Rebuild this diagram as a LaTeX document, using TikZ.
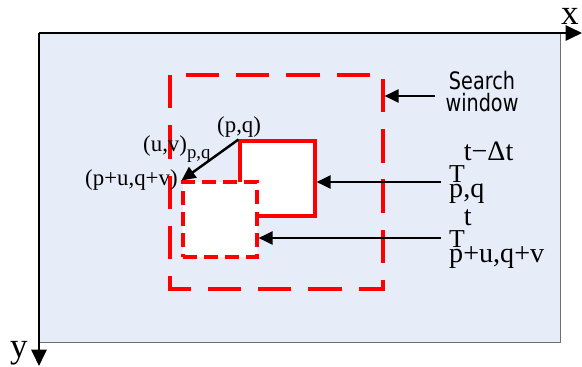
\documentclass[tikz,border=0pt]{standalone}
\usepackage{fontspec}
\setmainfont{Liberation Serif}
\newfontfamily\windowfont[FakeStretch=0.8]{DejaVu Sans}
\usetikzlibrary{arrows.meta, positioning}
\definecolor{frameFill}{RGB}{231,237,248}
\definecolor{frameLine}{RGB}{110,110,110}
\definecolor{blockRed}{RGB}{255,0,0}
\newcommand{\motionlbl}[2]{\rlap{T\hspace{-1pt}\raisebox{18pt}{\fontsize{24}{24}\selectfont #1}}\raisebox{-13.6pt}{\fontsize{24}{24}\selectfont #2}}

\begin{document}
\begin{tikzpicture}[
    x=0.03cm, y=-0.03cm,
    axis/.style={line width=2pt, -{Triangle[length=14pt, width=13pt]}},
    pointer/.style={line width=2.1pt, -{Triangle[length=12pt, width=11pt]}},
    window/.style={draw=blockRed, line width=2.6pt, dash pattern=on 28.45pt off 14.5pt},
    block/.style={draw=blockRed, line width=2.6pt, fill=white, minimum width=2.22cm, minimum height=2.25cm, inner sep=0pt},
    moved/.style={block, dash pattern=on 12pt off 6pt},
    lbl/.style={font=\fontsize{19.5}{21}\selectfont, inner sep=0pt},
    tlbl/.style={font=\fontsize{22}{24}\selectfont, inner sep=0pt, anchor=base west},
    axislbl/.style={font=\fontsize{30}{32}\selectfont, inner sep=0pt},
    searchlbl/.style={font=\windowfont\fontsize{20.5}{19}\selectfont, align=center, inner sep=0pt}
]
    \useasboundingbox (0,0) rectangle (582,367);

    % image plane and axes
    \coordinate (origin) at (39,33);
    \coordinate (xend) at (582,33);
    \coordinate (yend) at (39,366);
    \draw[draw=frameLine, line width=0.8pt, fill=frameFill] (origin) rectangle (560,342);
    \draw[axis] (origin) -- (xend);
    \draw[axis] (origin) -- (yend);
    \node[axislbl] (xlbl) at (570,16) {x};
    \node[axislbl, anchor=base] (ylbl) at (19,357) {y};

    % search window and blocks
    \node[minimum width=6.39cm, minimum height=6.42cm, inner sep=0pt, outer sep=0pt] (search) at (276.5,182) {};
    \draw[window] (search.north west) -- (search.south west) -- (search.south east) -- (search.north east) -- cycle;
    \node[block, minimum width=2.25cm] (prev) at (277.5,178.5) {};
    \node[moved] (cur) at (220,219.5) {};

    % labels
    \node[searchlbl] (searchtxt) at (482,91.5) {Search\\window};
    \node[lbl, anchor=base west] (pq) at (217,132) {(p,q)};
    \node[lbl, anchor=base west] (uv) at (143,151) {(u,v)\raisebox{-6pt}{\fontsize{16}{16}\selectfont p,q}};
    \node[lbl, anchor=base west] (puqv) at (85,185) {(p+u,q+v)};
    \node[tlbl] (tprev) at (449,182) {\motionlbl{t−Δt}{p,q}};
    \node[tlbl] (tcur) at (449,247) {\motionlbl{t}{p+u,q+v}};

    % pointers
    \coordinate (searchtail) at (435,96);
    \coordinate (tprevtail) at (441,182);
    \coordinate (tcurtail) at (441,238);
    \draw[pointer, shorten >=1.3pt] (searchtail) -- (searchtail -| search.east);
    \draw[pointer] (prev.north west) -- (cur.north west);
    \draw[pointer] (tprevtail) -- (tprevtail -| prev.east);
    \draw[pointer] (tcurtail) -- (tcurtail -| cur.east);
\end{tikzpicture}
\end{document}
